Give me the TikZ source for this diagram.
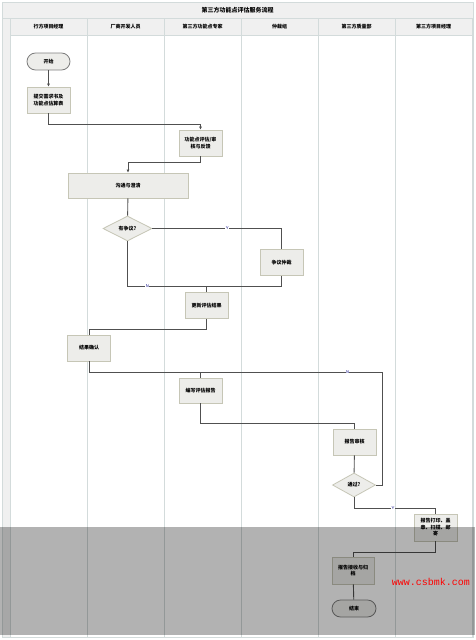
\documentclass[tikz,border=0pt]{standalone}
\usepackage{fontspec}
\newfontfamily\cjk{Noto Sans CJK SC}
\newfontfamily\monofnt{Liberation Mono}
\usetikzlibrary{arrows.meta,shapes.geometric}
\definecolor{boxfill}{HTML}{EDEDEA}
\definecolor{boxedge}{HTML}{C6C6B6}
\definecolor{flowline}{HTML}{505050}
\definecolor{lanegray}{HTML}{D3DBDB}
\definecolor{headfill}{HTML}{F0F0F0}

\begin{document}
\begin{tikzpicture}[x=1pt,y=-1pt,
	lane/.style={draw=lanegray,line width=1pt},
	proc/.style={draw=boxedge,fill=boxfill,line width=0.8pt,minimum width=43pt,minimum height=26pt,
		inner sep=1pt,align=center,font=\cjk\bfseries\fontsize{5}{6.5}\selectfont},
	term/.style={proc,draw=gray,rounded corners=8.5pt,minimum height=17pt},
	decision/.style={diamond,draw=boxedge,fill=boxfill,line width=0.8pt,minimum width=49pt,minimum height=25pt,
		inner sep=0pt,font=\cjk\bfseries\fontsize{5}{6}\selectfont},
	flow/.style={draw=flowline,line width=0.9pt},
	arr/.style={flow,-{Latex[length=3pt,width=3pt]}},
	lbl/.style={font=\sffamily\fontsize{4}{4}\selectfont,text=blue!50!black,fill=white,inner sep=0.4pt},
	head/.style={font=\cjk\bfseries\fontsize{5}{6}\selectfont}
	]
	\useasboundingbox (0,0) rectangle (475,640);
	
	% Frame and title
	\fill[white] (0,0) rectangle (475,640);
	\fill[headfill] (2,2) rectangle (473,18);
	\fill[headfill] (2,18) rectangle (10,637);
	\fill[headfill] (10,18) rectangle (472,35);
	\draw[lanegray] (2,2) rectangle (473,637);
	\draw[lanegray] (2,18) -- (473,18);
	\draw[lanegray] (10,35) -- (472,35);
	\node[head,font=\cjk\bfseries\fontsize{6}{7}\selectfont] (title) at (237.5,10) {第三方功能点评估服务流程};
	
	% Lanes
	\foreach \x in {10,87,164,241,318,395,472}
		\draw[lane] (\x,18) -- (\x,637);
	\node[head] (h1) at (48.5,27) {行方项目经理};
	\node[head] (h2) at (125.5,27) {厂商开发人员};
	\node[head] (h3) at (202.5,27) {第三方功能点专家};
	\node[head] (h4) at (279.5,27) {仲裁组};
	\node[head] (h5) at (356.5,27) {第三方质量部};
	\node[head] (h6) at (433.5,27) {第三方项目经理};
	
	% Steps
	\node[term] (start) at (48.5,61.5) {开始};
	\node[proc] (submit) at (48.5,100) {提交需求书及\\功能点估算表};
	\node[proc] (review) at (200.5,143) {功能点评估/审\\核与反馈};
	\node[proc,minimum width=120pt,minimum height=25pt] (clarify) at (128,185.5) {沟通与澄清};
	\node[decision] (dispute) at (127.5,228.5) {有争议?};
	\node[proc] (arbit) at (281.5,262.5) {争议仲裁};
	\node[proc] (update) at (206.5,305.5) {更新评估结果};
	\node[proc] (confirm) at (89,348) {结果确认};
	\node[proc,minimum height=25pt] (write) at (200.5,390.5) {编写评估报告};
	\node[proc] (audit) at (354.5,442) {报告审核};
	\node[decision,minimum width=43pt,minimum height=24pt] (pass) at (354,485) {通过?};
	\node[proc,minimum height=27pt] (print) at (435.5,527.5) {报告打印、盖\\章、扫描、邮\\寄};
	\node[proc,minimum width=42pt,minimum height=27pt] (archive) at (353,570.5) {报告接收与归\\档};
	\node[term,minimum width=44pt] (finish) at (354,608.5) {结束};
	
	% Bend points
	\coordinate (merge) at (206.5,286);
	\coordinate (join) at (200.5,372);
	\coordinate (loopc) at (382,372);
	
	% Connectors
	\draw[arr] (start) -- (submit);
	\draw[arr] (submit.south) -- ++(0,11) -| (review.north);
	\draw[arr] (review.south) -- ++(0,6) -| (clarify.north);
	\draw[flow] (clarify) -- (dispute);
	\draw[flow] (dispute.east) -| (arbit.north) node[lbl,pos=0.29] {Y};
	\draw[flow] (dispute.south) |- (merge) node[lbl,pos=0.625] {N};
	\draw[flow] (arbit.south) |- (merge);
	\draw[flow] (merge) -- (update.north);
	\draw[flow] (update.south) -- ++(0,11) -| (confirm.north);
	\draw[flow] (confirm.south) |- (join);
	\draw[flow] (join) -- (write.north);
	\draw[flow] (pass.east) -| (loopc) -- (join) node[lbl,pos=0.19] {N};
	\draw[flow] (write.south) -- ++(0,20) -| (audit.north);
	\draw[flow] (audit) -- (pass);
	\draw[flow] (pass.south) -- ++(0,11) -| (print.north) node[lbl,pos=0.24] {Y};
	\draw[flow] (print.south) -- ++(0,11) -| (archive.north);
	\draw[flow] (archive) -- (finish);
	
	% Grey band and mark
	\fill[black,opacity=0.3] (0,527) rectangle (475,635);
	\node[text=red,font=\monofnt\fontsize{10}{10}\selectfont] (mark) at (431,582) {www.csbmk.com};
\end{tikzpicture}
\end{document}
